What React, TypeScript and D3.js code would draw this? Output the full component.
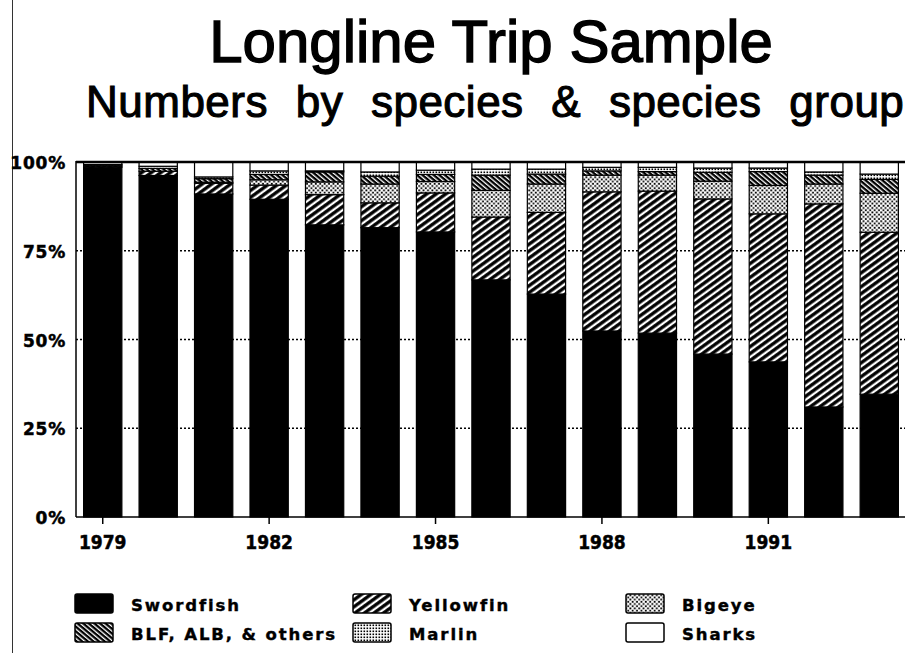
import React from 'react';
import * as d3 from 'd3';

// Share of the longline trip sample by species group, per year (%)
const years = ['1979', '1980', '1981', '1982', '1983', '1984', '1985', '1986', '1987', '1988', '1989', '1990', '1991', '1992', '1993'];
const swordfish = [98.5, 96.2, 91.0, 89.5, 82.3, 81.5, 80.3, 66.8, 62.8, 52.4, 51.8, 45.9, 43.7, 31.0, 34.6];
const yellowfin = [0.3, 1.2, 3.0, 4.0, 8.5, 7.0, 11.0, 17.7, 23.0, 39.2, 40.0, 43.7, 41.7, 57.2, 45.6];
const bigeye = [0, 0, 0.3, 1.5, 3.6, 5.3, 3.2, 7.5, 8.0, 4.7, 4.5, 5.0, 8.0, 5.6, 11.0];
const blfAlb = [0.3, 0.8, 1.0, 1.5, 2.8, 2.2, 2.0, 4.3, 2.8, 1.2, 1.0, 2.5, 3.9, 2.5, 3.9];
const marlin = [0.2, 0.6, 0.5, 1.0, 0.3, 1.2, 1.2, 1.7, 1.4, 1.0, 1.2, 1.2, 1.0, 0.9, 1.5];
const sharks = [0.7, 1.2, 4.2, 2.5, 2.5, 2.8, 2.3, 2.0, 2.0, 1.5, 1.5, 1.7, 1.7, 2.8, 3.4];

const seriesKeys = ['Swordfish', 'Yellowfin', 'Bigeye', 'BLF, ALB, & others', 'Marlin', 'Sharks'];
const seriesValues = [swordfish, yellowfin, bigeye, blfAlb, marlin, sharks];
const fills = ['#000', 'url(#yf)', 'url(#be)', 'url(#blf)', 'url(#mar)', '#fff'];

const xTickYears = ['1979', '1982', '1985', '1988', '1991'];
const yTicks = [0, 0.25, 0.5, 0.75, 1];

// legend in reading order: row by row, three columns
const legendOrder = ['Swordfish', 'Yellowfin', 'Bigeye', 'BLF, ALB, & others', 'Marlin', 'Sharks'];

const W = 905;
const H = 653;
const boldFont = '"DejaVu Sans", sans-serif';
const titleFont = '"Liberation Sans", Arial, sans-serif';

export default function App() {
    const rows = years.map((year, i) => {
        const row: any = { year };
        seriesKeys.forEach((k, s) => { row[k] = seriesValues[s][i]; });
        return row;
    });

    const stacked = d3.stack<any>()
        .keys(seriesKeys)
        .offset(d3.stackOffsetExpand)(rows);

    const x = d3.scaleBand<string>()
        .domain(years)
        .range([75, 907])
        .paddingInner(0.31)
        .paddingOuter(0.155);

    const y = d3.scaleLinear()
        .domain([0, 1])
        .range([517, 162]);

    const left = 76;
    const right = 905;

    return (
        <svg width={W} height={H} style={{ position: 'absolute', left: 0, top: 0, background: '#fff' }}>
            <defs>
                <pattern id="yf" patternUnits="userSpaceOnUse" width="8" height="5.6" patternTransform="rotate(-36)">
                    <rect width="8" height="5.6" fill="#000" />
                    <rect y="0.6" width="8" height="2.3" fill="#fff" />
                </pattern>
                <pattern id="blf" patternUnits="userSpaceOnUse" width="6" height="3.6" patternTransform="rotate(40)">
                    <rect width="6" height="3.6" fill="#000" />
                    <rect y="0.5" width="6" height="1.3" fill="#fff" />
                </pattern>
                <pattern id="be" patternUnits="userSpaceOnUse" width="4.4" height="4.4">
                    <rect width="4.4" height="4.4" fill="#fff" />
                    <rect x="0.3" y="0.3" width="1.8" height="1.8" fill="#000" />
                    <rect x="2.5" y="2.5" width="1.8" height="1.8" fill="#000" />
                </pattern>
                <pattern id="mar" patternUnits="userSpaceOnUse" width="3" height="3">
                    <rect width="3" height="3" fill="#fff" />
                    <rect x="0.5" y="0.5" width="1.6" height="1.6" fill="#000" />
                </pattern>
            </defs>

            {/* scan edge on the left */}
            <line x1={12.5} x2={12.5} y1={0} y2={H} stroke="#333" strokeWidth={1} />

            {/* titles */}
            <text x={491} y={62} textAnchor="middle" fontFamily={titleFont}
                fontSize={60} stroke="#000" strokeWidth={1.4}>Longline Trip Sample</text>
            <text x={86} y={117} fontFamily={titleFont}
                fontSize={44} wordSpacing={15} letterSpacing={0.5} stroke="#000" strokeWidth={1.1}>
                Numbers by species &amp; species group
            </text>

            {/* dotted grid lines */}
            {yTicks.filter(t => t > 0 && t < 1).map(t => (
                <line key={t} x1={left} x2={right} y1={y(t)} y2={y(t)}
                    stroke="#000" strokeWidth={1.3} strokeDasharray="2,2" />
            ))}

            {/* stacked bars */}
            {stacked.map((layer, s) => (
                <g key={layer.key}>
                    {layer.map((d, i) => {
                        const h = y(d[0]) - y(d[1]);
                        if (h <= 0.2) return null;
                        return (
                            <rect key={i} x={x(years[i])} y={y(d[1])} width={x.bandwidth()} height={h}
                                fill={fills[s]} stroke="#000" strokeWidth={1.2} />
                        );
                    })}
                </g>
            ))}

            {/* frame: top line, baseline, left axis */}
            <line x1={left} x2={right} y1={y(1)} y2={y(1)} stroke="#000" strokeWidth={2.5} />
            <line x1={left} x2={right} y1={y(0)} y2={y(0)} stroke="#000" strokeWidth={1.5} />
            <line x1={left} x2={left} y1={y(1) - 1} y2={y(0)} stroke="#000" strokeWidth={1.5} />

            {/* y labels */}
            {yTicks.map(t => (
                <text key={t} x={66} y={y(t) + 7} textAnchor="end" fontFamily={boldFont}
                    fontWeight="bold" fontSize={17} letterSpacing={0.8}
                    stroke="#000" strokeWidth={0.5}>{`${t * 100}%`}</text>
            ))}

            {/* x ticks + labels */}
            {xTickYears.map(yr => {
                const cx = (x(yr) as number) + x.bandwidth() / 2;
                return (
                    <g key={yr}>
                        <line x1={cx} x2={cx} y1={y(0)} y2={y(0) + 7} stroke="#000" strokeWidth={1.5} />
                        <text transform={`translate(${cx},549) scale(0.9,1)`} textAnchor="middle"
                            fontFamily={boldFont} fontWeight="bold" fontSize={19}
                            stroke="#000" strokeWidth={0.5}>{yr}</text>
                    </g>
                );
            })}

            {/* legend */}
            {legendOrder.map((k, i) => {
                const col = i % 3;
                const row = Math.floor(i / 3);
                const lx = [75, 353, 626][col];
                const ly = [594, 623][row];
                const s = seriesKeys.indexOf(k);
                return (
                    <g key={k}>
                        <rect x={lx} y={ly} width={38} height={19} rx={2} fill={fills[s]}
                            stroke="#000" strokeWidth={1.5} />
                        <text x={lx + 56} y={ly + 17} fontFamily={boldFont} fontWeight="bold"
                            fontSize={16.5} letterSpacing={1.9} stroke="#000" strokeWidth={0.4}>{k}</text>
                    </g>
                );
            })}
        </svg>
    );
}
